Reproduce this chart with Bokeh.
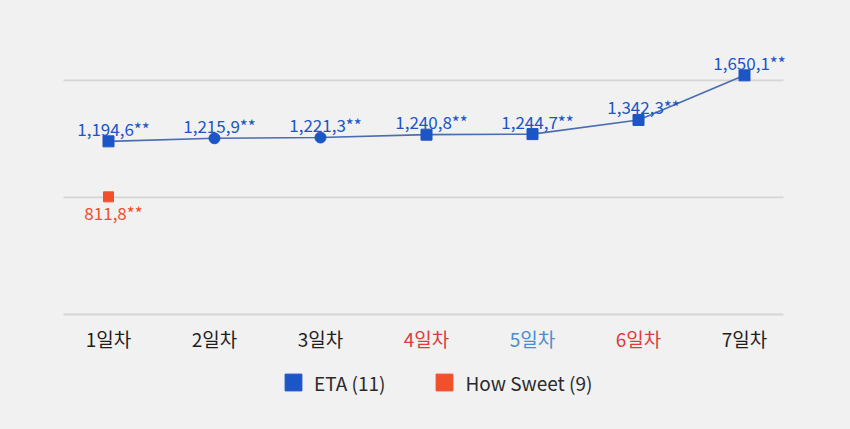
from bokeh.plotting import figure
from bokeh.models import Label, Legend, LegendItem, Range1d, ColumnDataSource
from bokeh.core.properties import value
from bokeh.embed import file_html
from bokeh.resources import INLINE

# ---- data ----
days = ["1일차", "2일차", "3일차", "4일차", "5일차", "6일차", "7일차"]
day_colors = ["#1e1e1e", "#1e1e1e", "#1e1e1e", "#e0393e", "#4a8ccf", "#e0393e", "#1e1e1e"]
eta_values = [1194.6, 1215.9, 1221.3, 1240.8, 1244.7, 1342.3, 1650.1]
eta_labels = ["1,194,6**", "1,215,9**", "1,221,3**", "1,240,8**", "1,244,7**", "1,342,3**", "1,650,1**"]
eta_markers = ["square", "circle", "circle", "square", "square", "square", "square"]
hs_days = [1]
hs_values = [811.8]
hs_labels = ["811,8**"]
grid_ticks = [0, 808, 1616]
legend_names = ["ETA (11)", "How Sweet (9)"]

BLUE = "#1b55c6"
LINE = "#4a6cb0"
ORANGE = "#f0502a"
BG = "#f1f1f1"
FONT = "Noto Sans CJK KR"

x = list(range(1, len(days) + 1))

W, H = 834, 413
# layout in screen pixels
X0_PX, DX_PX = 108, 106          # first category position, category spacing
Y0_PX, UNITS_PER_PX = 314, 6.9    # pixel row of value 0, value units per pixel
x_start = 1 - X0_PX / DX_PX
x_end = 1 + (W - X0_PX) / DX_PX
y_start = -(H - Y0_PX) * UNITS_PER_PX
y_end = Y0_PX * UNITS_PER_PX

p = figure(width=W, height=H, output_backend="svg", toolbar_location=None,
           x_range=Range1d(x_start, x_end), y_range=Range1d(y_start, y_end),
           x_axis_location=None, y_axis_location=None, min_border=0,
           background_fill_color=BG, border_fill_color=BG, outline_line_color=None)
p.xgrid.visible = False
p.ygrid.visible = False

# horizontal grid lines (span of plot area)
gpad_l, gpad_r = 45 / DX_PX, 39 / DX_PX
p.segment(x0=[x[0] - gpad_l] * len(grid_ticks), x1=[x[-1] + gpad_r] * len(grid_ticks),
          y0=grid_ticks, y1=grid_ticks, line_color="#d5d5d5", line_width=1.8)

src = ColumnDataSource(dict(x=x, y=eta_values, lab=eta_labels, m=eta_markers))
p.line("x", "y", source=src, line_color=LINE, line_width=1.6)
eta_r = p.scatter("x", "y", source=src, marker="m", size=11, fill_color=BLUE, line_color=BLUE)
p.text("x", "y", text="lab", source=src, text_align="center", text_baseline="alphabetic",
       x_offset=5, y_offset=-13, text_color=BLUE, text_font=value(FONT),
       text_font_size="17px")

hsrc = ColumnDataSource(dict(x=hs_days, y=hs_values, lab=hs_labels))
hs_r = p.scatter("x", "y", source=hsrc, marker="square", size=10, fill_color=ORANGE, line_color=ORANGE)
p.text("x", "y", text="lab", source=hsrc, text_align="center", text_baseline="alphabetic",
       x_offset=5, y_offset=16, text_color=ORANGE, text_font=value(FONT),
       text_font_size="17px")

# category labels under the axis
for xi, d, c in zip(x, days, day_colors):
    p.add_layout(Label(x=xi, y=-23.5 * UNITS_PER_PX, text=d, text_align="center",
                       text_baseline="middle", text_color=c, text_font=FONT,
                       text_font_size="19px"))

# legend (marker legend glyph is 0.4 * glyph box)
legend = Legend(items=[LegendItem(label=legend_names[0], renderers=[eta_r], index=0),
                       LegendItem(label=legend_names[1], renderers=[hs_r], index=0)],
                orientation="horizontal", location=(272, 10),
                glyph_width=42, glyph_height=42, label_height=20,
                label_standoff=0, spacing=38,
                padding=0, margin=0, border_line_color=None, background_fill_alpha=0,
                label_text_font=FONT, label_text_font_size="19px",
                label_text_color="#2a2a2a")
p.add_layout(legend, "center")

html = file_html(p, INLINE)
html = html.replace("</head>", "<style>html,body{background:#f1f1f1;}</style></head>", 1)
open("out.html", "w").write(html)
